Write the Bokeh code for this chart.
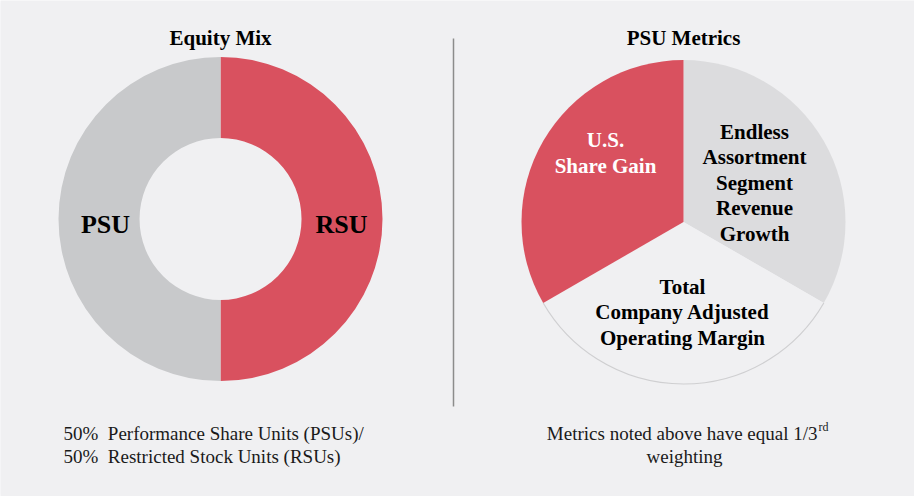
import numpy as np
from bokeh.plotting import figure
from bokeh.models import Range1d, ColumnDataSource
from bokeh.core.properties import value
from bokeh.embed import file_html
from bokeh.resources import INLINE

# ---- data ----
equity_labels = ["RSU", "PSU"]          # clockwise from 12 o'clock
equity_shares = [50, 50]
equity_colors = ["#d9515f", "#c8c9cb"]

metric_labels = ["Endless Assortment Segment Revenue Growth",
                 "Total Company Adjusted Operating Margin",
                 "U.S. Share Gain"]     # clockwise from 12 o'clock
metric_shares = [1/3, 1/3, 1/3]
metric_colors = ["#dcdcde", "#f0f0f2", "#d9515f"]

W, H = 914, 496
SERIF = value("Liberation Serif")

p = figure(width=W, height=H, output_backend="svg", toolbar_location=None,
           x_range=Range1d(0, W), y_range=Range1d(0, H),
           min_border=0, border_fill_color="white", background_fill_color="#f0f0f2",
           outline_line_color=None)
p.axis.visible = False
p.grid.visible = False

def Y(py):
    return H - py

# background panel
p.quad(left=[0], right=[911], bottom=[Y(494)], top=[Y(2)], fill_color="#f0f0f2", line_color=None)

def wedge_angles(shares):
    fr = np.array(shares, dtype=float) / np.sum(shares)
    start = np.pi / 2
    ends = start - np.cumsum(fr) * 2 * np.pi
    starts = np.concatenate([[start], ends[:-1]])
    return ends, starts   # (start_angle, end_angle) for anticlockwise drawing

# ---- Equity Mix donut ----
cx1, cy1, R1, r1 = 220, Y(218.5), 162, 81
s, e = wedge_angles(equity_shares)
src1 = ColumnDataSource(dict(start=s, end=e, color=equity_colors, label=equity_labels))
p.annular_wedge(x=cx1, y=cy1, inner_radius=r1, outer_radius=R1, start_angle="start",
                end_angle="end", fill_color="color", line_color=None, source=src1)

# ---- PSU Metrics pie ----
cx2, cy2, R2 = 683, Y(221.5), 162
s2, e2 = wedge_angles(metric_shares)
src2 = ColumnDataSource(dict(start=s2, end=e2, color=metric_colors, label=metric_labels))
p.wedge(x=cx2, y=cy2, radius=R2, start_angle="start", end_angle="end",
        fill_color="color", line_color=None, source=src2)
p.arc(x=cx2, y=cy2, radius=R2, start_angle=s2[1], end_angle=e2[1],
      line_color="#cfcfd1", line_width=1.2)

# divider
p.segment(x0=[453], y0=[Y(38)], x1=[453], y1=[Y(406)], line_color="#8c8c8c", line_width=1.5)

def txt(x, y, t, size, color="#000000", bold=True, align="center"):
    p.text(x=[x], y=[Y(y)], text=[t], text_font=SERIF, text_font_size=size,
           text_font_style="bold" if bold else "normal", text_color=color,
           text_align=align, text_baseline="alphabetic")

# titles
txt(220, 37, "Equity Mix", "21px")
txt(683, 37, "PSU Metrics", "21px")

# donut labels
txt(105, 224, "PSU", "26px")
txt(341, 224, "RSU", "26px")

# pie labels
for i, line in enumerate(["U.S.", "Share Gain"]):
    txt(605, 139 + i * 26, line, "21px", color="#ffffff")
for i, line in enumerate(["Endless", "Assortment", "Segment", "Revenue", "Growth"]):
    txt(754, 131 + i * 25.5, line, "21px")
for i, line in enumerate(["Total", "Company Adjusted", "Operating Margin"]):
    txt(682, 286 + i * 25.5, line, "21px")

# footnotes
NB = "\u00a0"
txt(63, 433, "50%" + NB + NB + "Performance Share Units (PSUs)/", "19px", color="#1a1a1a", bold=False, align="left")
txt(63, 456, "50%" + NB + NB + "Restricted Stock Units (RSUs)", "19px", color="#1a1a1a", bold=False, align="left")
txt(817, 433, "Metrics noted above have equal 1/3", "19px", color="#1a1a1a", bold=False, align="right")
txt(818, 426, "rd", "12px", color="#1a1a1a", bold=False, align="left")
txt(684, 456, "weighting", "19px", color="#1a1a1a", bold=False)

open("out.html", "w").write(file_html(p, INLINE))
